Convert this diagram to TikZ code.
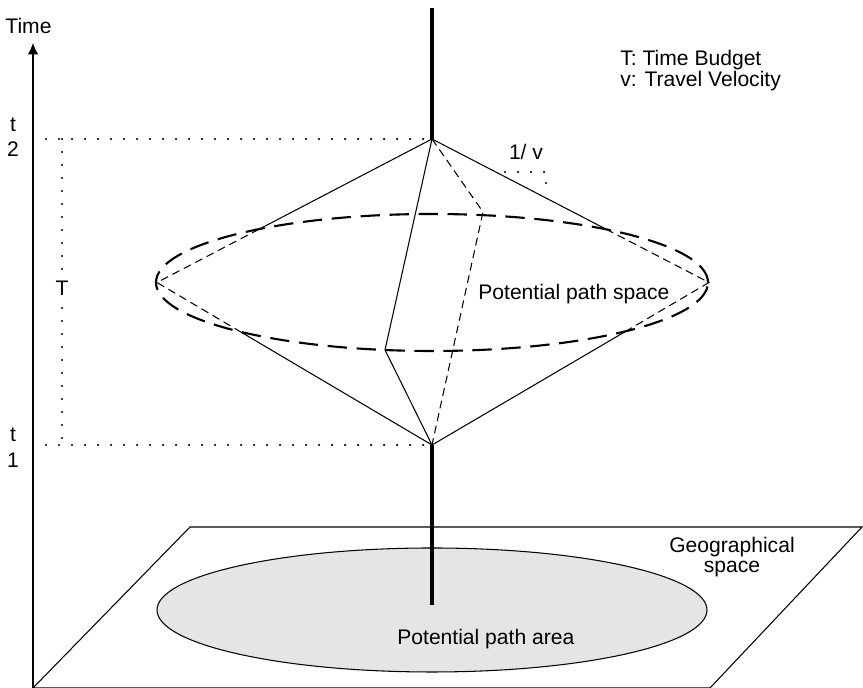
\documentclass[tikz,border=0pt]{standalone}
\usepackage{fontspec}
\setmainfont{Liberation Sans}
\usetikzlibrary{arrows.meta, positioning, calc}

\begin{document}
\begin{tikzpicture}[
    x=0.02cm, y=0.02cm,
    font=\fontsize{12}{14}\selectfont,
    edge/.style={line width=0.6pt},
    hidden/.style={line width=0.6pt, dash pattern=on 4.5pt off 2.8pt},
    guide/.style={line width=1.4pt, line cap=round, dash pattern=on 0pt off 7.4pt},
    stem/.style={line width=2.2pt},
    rim/.style={line width=1.2pt, dash pattern=on 11pt off 5.5pt},
    lbl/.style={anchor=base, inner sep=0pt}
  ]
    \useasboundingbox (0,0) rectangle (863,688);

    % Cone vertices
    \coordinate (top) at (432,549);
    \coordinate (bot) at (432,243);
    \coordinate (west) at (157,405.5);
    \coordinate (east) at (709,405.5);
    \coordinate (back) at (483,476);
    \coordinate (front) at (385,338);
    \coordinate (rimc) at (432,405.5);

    % Where the cone edges enter the rim
    \coordinate (tw) at ($(top)!0.629!(west)$);
    \coordinate (te) at ($(top)!0.629!(east)$);
    \coordinate (bw) at ($(bot)!0.698!(west)$);
    \coordinate (be) at ($(bot)!0.698!(east)$);

    % Geographical plane and path area
    \coordinate (origin) at (33,0);
    \draw[edge] (origin) -- (710,0) -- (862,161) -- (190,161) -- cycle;
    \draw[edge, fill=black!10] (432,78) ellipse [x radius=275, y radius=62];

    % Time axis
    \coordinate (tip) at (33,645);
    \draw[edge, -{Latex[length=6.5pt, width=6pt]}] (origin) -- (tip);

    % Time levels
    \draw[guide] (origin |- top) -- (top);
    \draw[guide] (origin |- bot) -- (bot);
    \coordinate (bt2) at (62,549);
    \coordinate (bt1) at (62,243);
    \draw[guide] (bt2) -- node[fill=white, inner sep=2pt, yshift=2pt] {T} (bt1);

    % Space-time path
    \coordinate (pathtop) at (432,680);
    \coordinate (pathbot) at (432,83);
    \draw[stem] (pathtop) -- (top);
    \draw[stem] (bot) -- (pathbot);

    % Prism edges
    \draw[edge] (top) -- (tw) (top) -- (te) (top) -- (front) -- (bot) (bot) -- (bw) (bot) -- (be);
    \draw[hidden] (tw) -- (west) -- (bw) (te) -- (east) -- (be);
    \draw[hidden] (top) -- (back) -- (bot);
    \draw[rim] (rimc) ellipse [x radius=276, y radius=68.5];

    % Slope mark
    \draw[guide] (505,516) -- (546,516) -- (546,498);

    % Labels
    \node[lbl] (time) at (28.5,654) {Time};
    \node[lbl] (t2a) at (13,556) {t};
    \node[lbl] (t2b) at (13,531) {2};
    \node[lbl] (t1a) at (13,246) {t};
    \node[lbl] (t1b) at (13,220) {1};
    \node[lbl] (slope) at (526,528) {1/ v};
    \node[lbl, anchor=base west] (pps) at (478,388) {Potential path space};
    \node[lbl] (geo) at (732,135) {Geographical};
    \node[lbl] (geob) at (732,115) {space};
    \node[lbl, anchor=base west] (ppa) at (397,43) {Potential path area};

    % Legend
    \node[lbl, anchor=base west] (keyT) at (620,622) {T: Time Budget};
    \node[lbl, anchor=base west] (keyv) at (620,601) {v: Travel Velocity};
  \end{tikzpicture}
\end{document}
